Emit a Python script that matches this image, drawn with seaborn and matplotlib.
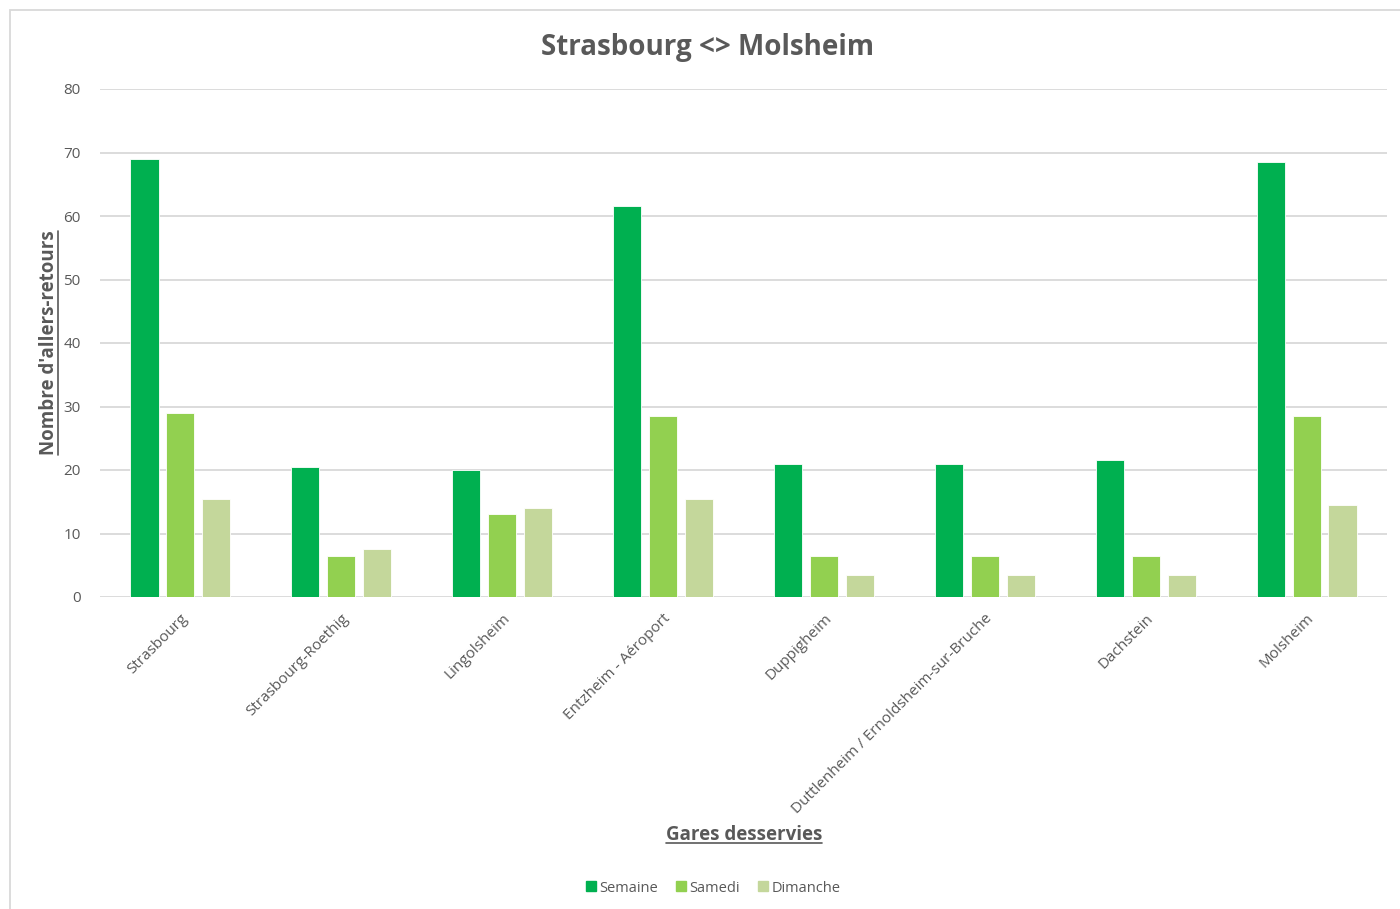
import matplotlib
matplotlib.use("Agg")
import matplotlib.pyplot as plt
from matplotlib.patches import Rectangle
from matplotlib.lines import Line2D
import seaborn as sns
import pandas as pd

gares = ["Strasbourg", "Strasbourg-Roethig", "Lingolsheim", "Entzheim - Aéroport",
         "Duppigheim", "Duttlenheim / Ernoldsheim-sur-Bruche", "Dachstein", "Molsheim"]
semaine = [69, 20.5, 20, 61.5, 21, 21, 21.5, 68.5]
samedi = [29, 6.5, 13, 28.5, 6.5, 6.5, 6.5, 28.5]
dimanche = [15.5, 7.5, 14, 15.5, 3.5, 3.5, 3.5, 14.5]
jours = ["Semaine", "Samedi", "Dimanche"]
couleurs = ["#00B050", "#92D050", "#C4D79B"]

df = pd.DataFrame({"Gare": gares, "Semaine": semaine, "Samedi": samedi, "Dimanche": dimanche})
df = df.melt(id_vars="Gare", value_vars=jours, var_name="Jour", value_name="Valeur")

sns.set_theme(style="white")
plt.rcParams["font.family"] = ["Open Sans", "DejaVu Sans"]
gris = "#595959"

fig = plt.figure(figsize=(14, 9.09), dpi=100)
ax = fig.add_axes([100 / 1400, 1 - 597 / 909, 1287 / 1400, 508 / 909])

sns.barplot(data=df, x="Gare", y="Valeur", hue="Jour", hue_order=jours,
            palette=couleurs, saturation=1, width=0.67, gap=0.22, ax=ax, legend=True,
            edgecolor="white", linewidth=0.6, zorder=3)

ax.set_xlim(-0.5, len(gares) - 0.5)
ax.set_ylim(0, 80)
ax.set_yticks(range(0, 81, 10))
ax.yaxis.grid(True, color="#d9d9d9", linewidth=1.3, zorder=0)
ax.set_axisbelow(True)
for s in ax.spines.values():
    s.set_visible(False)
ax.tick_params(axis="both", length=0, colors=gris, labelsize=11)
ax.tick_params(axis="y", pad=14)
ax.set_xticks(range(len(gares)))
ax.set_xticklabels(gares, rotation=45, ha="right", rotation_mode="anchor")
ax.tick_params(axis="x", pad=10)
ax.set_xlabel("")
ax.set_ylabel("")

# Titles and axis labels
fig.text(708 / 1400, 1 - 48 / 909, "Strasbourg <> Molsheim", ha="center", va="center",
         fontsize=20, fontweight="bold", color=gris)
xl = fig.text(744 / 1400, 1 - 835 / 909, "Gares desservies", ha="center", va="center",
              fontsize=13.5, fontweight="bold", color=gris)
yl = fig.text(49 / 1400, 1 - 343 / 909, "Nombre d'allers-retours", ha="center", va="center",
              rotation=90, fontsize=13.5, fontweight="bold", color=gris)

# Legend
ax.legend_.remove()
handles = [Line2D([0], [0], marker="s", linestyle="", markersize=7,
                  markerfacecolor=c, markeredgecolor=c) for c in couleurs]
fig.legend(handles, jours, loc="center", bbox_to_anchor=(712 / 1400, 1 - 888 / 909),
           ncol=3, frameon=False, fontsize=10.5, labelcolor=gris,
           handletextpad=0.05, columnspacing=1.1, handlelength=1.0)

# Underlines for axis labels
fig.canvas.draw()
r = fig.canvas.get_renderer()
inv = fig.transFigure.inverted()
bb = xl.get_window_extent(r)
(x0, y0), (x1, y1) = inv.transform([(bb.x0, bb.y0), (bb.x1, bb.y1)])
fig.add_artist(Line2D([x0, x1], [y0 + 0.002, y0 + 0.002], color=gris, linewidth=1.2,
                      transform=fig.transFigure))
bb = yl.get_window_extent(r)
(x0, y0), (x1, y1) = inv.transform([(bb.x0, bb.y0), (bb.x1, bb.y1)])
fig.add_artist(Line2D([x1 - 0.0005, x1 - 0.0005], [y0, y1], color=gris, linewidth=1.2,
                      transform=fig.transFigure))

# Chart frame
fig.add_artist(Rectangle((10 / 1400, -0.05), 1.2, 1 - 10 / 909 + 0.05, fill=False,
                         edgecolor="#d9d9d9", linewidth=1.3, transform=fig.transFigure))

fig.savefig("out.png", dpi=100)
